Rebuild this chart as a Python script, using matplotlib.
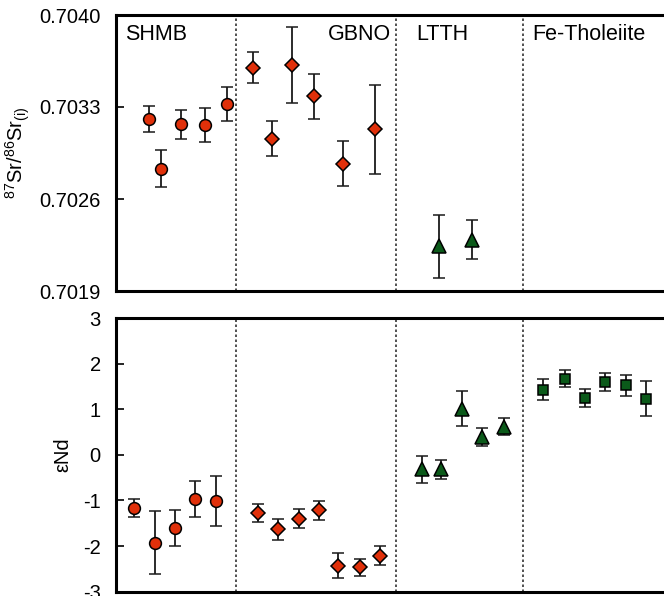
import numpy as np
import matplotlib
matplotlib.use("Agg")
import matplotlib.pyplot as plt

plt.rcParams['font.family'] = ['Liberation Sans', 'DejaVu Sans']
plt.rcParams['mathtext.default'] = 'regular'
plt.rcParams['axes.unicode_minus'] = False

# group labels and boundaries (sample sequence positions)
groups = ["SHMB", "GBNO", "LTTH", "Fe-Tholeiite"]
dividers = [5.85, 13.6, 19.76]

# Sr isotopes (top panel)
sr_shmb_x = [1.6, 2.2, 3.17, 4.34, 5.37]
sr_shmb = [0.70321, 0.70283, 0.70317, 0.70316, 0.70332]
sr_shmb_err = [0.00010, 0.00014, 0.00011, 0.00013, 0.00013]

sr_gbno_x = [6.63, 7.56, 8.54, 9.61, 11.02, 12.59]
sr_gbno = [0.70360, 0.70306, 0.70362, 0.70338, 0.70287, 0.70313]
sr_gbno_err = [0.00012, 0.00013, 0.00029, 0.00017, 0.00017, 0.00034]

sr_ltth_x = [15.7, 17.3]
sr_ltth = [0.70224, 0.70229]
sr_ltth_err = [0.00024, 0.00015]

# eNd (bottom panel)
nd_shmb_x = [0.88, 1.9, 2.88, 3.85, 4.88]
nd_shmb = [-1.16, -1.93, -1.61, -0.97, -1.02]
nd_shmb_err = [0.2, 0.69, 0.4, 0.4, 0.55]

nd_gbno_x = [6.88, 7.85, 8.88, 9.85, 10.78, 11.85, 12.83]
nd_gbno = [-1.28, -1.63, -1.40, -1.22, -2.43, -2.47, -2.21]
nd_gbno_err = [0.2, 0.23, 0.21, 0.2, 0.28, 0.18, 0.21]

nd_ltth_x = [14.88, 15.8, 16.78, 17.76, 18.83]
nd_ltth = [-0.32, -0.32, 1.01, 0.39, 0.62]
nd_ltth_err = [0.3, 0.2, 0.38, 0.2, 0.19]

nd_fe_x = [20.73, 21.8, 22.78, 23.76, 24.78, 25.76]
nd_fe = [1.43, 1.67, 1.24, 1.60, 1.53, 1.23]
nd_fe_err = [0.23, 0.19, 0.2, 0.2, 0.23, 0.38]

red = '#e0300a'
green = '#0b5a1a'

fig = plt.figure(figsize=(6.64, 5.96), dpi=100)
ax1 = fig.add_axes([116/664, 1-291/596, 556/664, 276/596])
ax2 = fig.add_axes([116/664, 1-591.6/596, 556/664, 273.6/596])

def errpts(ax, x, y, e, marker, color, ms):
    ax.errorbar(x, y, yerr=e, fmt=marker, mfc=color, mec='black', mew=1.1,
                ms=ms, ecolor='#1a1a1a', elinewidth=1.3, capsize=4, capthick=1.3,
                zorder=3)

errpts(ax1, sr_shmb_x, sr_shmb, sr_shmb_err, 'o', red, 8.5)
errpts(ax1, sr_gbno_x, sr_gbno, sr_gbno_err, 'D', red, 7.5)
errpts(ax1, sr_ltth_x, sr_ltth, sr_ltth_err, '^', green, 10)

errpts(ax2, nd_shmb_x, nd_shmb, nd_shmb_err, 'o', red, 8.5)
errpts(ax2, nd_gbno_x, nd_gbno, nd_gbno_err, 'D', red, 7.5)
errpts(ax2, nd_ltth_x, nd_ltth, nd_ltth_err, '^', green, 10)
errpts(ax2, nd_fe_x, nd_fe, nd_fe_err, 's', green, 7.5)

for ax in (ax1, ax2):
    ax.set_xlim(0, 27)
    ax.set_xticks([])
    for d in dividers:
        ax.axvline(d, color='#333333', lw=1.2, ls=(0, (1.5, 1.5)), zorder=1)
    for s in ax.spines.values():
        s.set_linewidth(2.2)
    ax.tick_params(axis='y', direction='in', length=6, width=1.2,
                   labelsize=14.5, pad=11)

ax1.set_ylim(0.7019, 0.7040)
ax1.set_yticks([0.7019, 0.7026, 0.7033, 0.7040])
ax1.set_yticklabels(['0.7019', '0.7026', '0.7033', '0.7040'])
ax1.set_ylabel(r'$^{87}$Sr/$^{86}$Sr$_{(i)}$', fontsize=14.5)
ax1.yaxis.set_label_coords(-0.151, 0.5)

ax2.set_ylim(-3, 3)
ax2.set_yticks([-3, -2, -1, 0, 1, 2, 3])
ax2.set_ylabel('εNd', fontsize=14.5)
ax2.yaxis.set_label_coords(-0.079, 0.5)

# group names in top panel
ax1.text(0.45, 0.70385, groups[0], fontsize=15.5, va='center', ha='left')
ax1.text(13.35, 0.70385, groups[1], fontsize=15.5, va='center', ha='right')
ax1.text(14.6, 0.70385, groups[2], fontsize=15.5, va='center', ha='left')
ax1.text(20.2, 0.70385, groups[3], fontsize=15.5, va='center', ha='left')

fig.savefig('out.png', dpi=100)
